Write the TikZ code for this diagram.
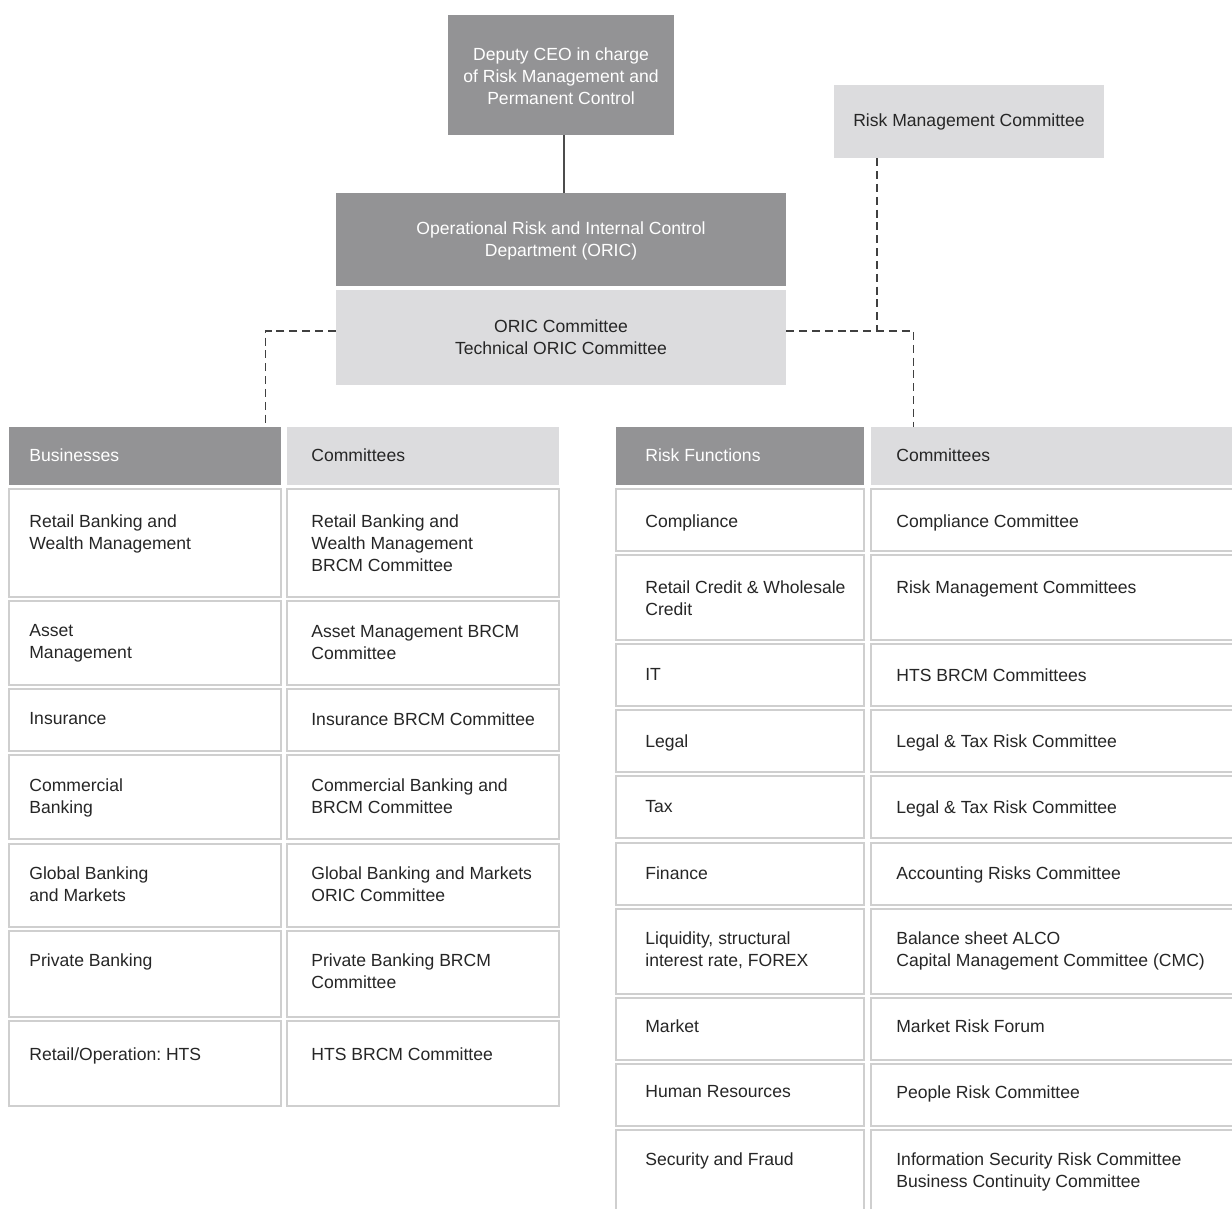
\documentclass[tikz,border=0pt]{standalone}
\usepackage{fontspec}
\setmainfont{Liberation Sans}
\usetikzlibrary{fit}
\frenchspacing

\definecolor{orgdark}{HTML}{939395}
\definecolor{orglight}{HTML}{DCDCDE}
\definecolor{cellline}{HTML}{CFCFCF}
\definecolor{orgtext}{HTML}{262626}

\tikzset{
  darkbox/.style={fill=orgdark, inner sep=0pt},
  lightbox/.style={fill=orglight, inner sep=0pt},
  boxtext/.style={inner sep=0pt, align=center},
  cellbox/.style={draw=cellline, line width=0.9pt, fill=white, inner sep=0pt},
  celltext/.style={anchor=north west, inner sep=0pt, align=left, text=orgtext},
  headtext/.style={anchor=west, inner sep=0pt},
  link/.style={draw=black!70, line width=0.8pt},
  dashlink/.style={draw=black!75, line width=0.8pt, dash pattern=on 4.5pt off 2.8pt}
}

\begin{document}
\begin{tikzpicture}[x=0.02cm, y=-0.02cm, font=\fontsize{10}{12.5}\selectfont]
\useasboundingbox (0,0) rectangle (1232,1209);

% Top of the chart
\node[darkbox, fit={(448,15)(674,135)}] (ceo) {};
\node[lightbox, fit={(834,85)(1104,158)}] (rmc) {};
\node[darkbox, fit={(336,193)(786,286)}] (oricdept) {};
\node[lightbox, fit={(336,290)(786,385)}] (oriccom) {};
\node[boxtext, text=white] (ceo-t) at ([yshift=-0.03cm]ceo.center) {Deputy CEO in charge\\of Risk Management and\\Permanent Control};
\node[boxtext, text=orgtext] (rmc-t) at (rmc.center) {Risk Management Committee};
\node[boxtext, text=white] (oricdept-t) at ([yshift=-0.03cm]oricdept.center) {Operational Risk and Internal Control\\Department (ORIC)};
\node[boxtext, text=orgtext] (oriccom-t) at (oriccom.center) {ORIC Committee\\Technical ORIC Committee};

% Headers
\node[darkbox, fit={(9,427)(281,485)}] (bizhead) {};
\node[lightbox, fit={(287,427)(559,485)}] (bizcomhead) {};
\node[darkbox, fit={(616,427)(864,485)}] (rfhead) {};
\node[lightbox, fit={(871,427)(1240,485)}] (rfcomhead) {};
\node[headtext, text=white] (bizhead-t) at (29,455) {Businesses};
\node[headtext, text=orgtext] (bizcomhead-t) at (311,455) {Committees};
\node[headtext, text=white] (rfhead-t) at (645,455) {Risk Functions};
\node[headtext, text=orgtext] (rfcomhead-t) at (896,455) {Committees};

% Businesses and their committees
\foreach \ya/\yb/\yc/\ta/\tb [count=\i] in {
  489/597/521/{Retail Banking and\\Wealth Management}/{Retail Banking and\\Wealth Management\\BRCM Committee},
  601/685/631/{Asset\\Management}/{Asset Management BRCM\\Committee},
  689/751/719/{Insurance}/{Insurance BRCM Committee},
  755/839/785/{Commercial\\Banking}/{Commercial Banking and\\BRCM Committee},
  844/927/873/{Global Banking\\and Markets}/{Global Banking and Markets\\ORIC Committee},
  931/1017/960/{Private Banking}/{Private Banking BRCM\\Committee},
  1021/1106/1054/{Retail/Operation: HTS}/{HTS BRCM Committee}}
{
  \node[cellbox, fit={(9,\ya)(281,\yb)}] (biz\i) {};
  \node[cellbox, fit={(287,\ya)(559,\yb)}] (bizcom\i) {};
  \node[celltext] (biz\i-t) at (29,\yc-6.5) {\ta};
  \node[celltext] (bizcom\i-t) at (311,\yc-6.5) {\tb};
}

% Risk functions and their committees
\foreach \ya/\yb/\yc/\ta/\tb [count=\i] in {
  489/551/521/{Compliance}/{Compliance Committee},
  555/640/587/{Retail Credit \& Wholesale\\Credit}/{Risk Management Committees},
  644/706/675/{IT}/{HTS BRCM Committees},
  710/772/741/{Legal}/{Legal \& Tax Risk Committee},
  776/838/807/{Tax}/{Legal \& Tax Risk Committee},
  843/905/873/{Finance}/{Accounting Risks Committee},
  909/994/938/{Liquidity, structural\\interest rate, FOREX}/{Balance sheet ALCO\\Capital Management Committee (CMC)},
  998/1060/1026/{Market}/{Market Risk Forum},
  1064/1126/1092/{Human Resources}/{People Risk Committee},
  1130/1220/1159/{Security and Fraud}/{Information Security Risk Committee\\Business Continuity Committee}}
{
  \node[cellbox, fit={(616,\ya)(864,\yb)}] (rf\i) {};
  \node[cellbox, fit={(871,\ya)(1240,\yb)}] (rfcom\i) {};
  \node[celltext] (rf\i-t) at (645,\yc-6.5) {\ta};
  \node[celltext] (rfcom\i-t) at (896,\yc-6.5) {\tb};
}

% Links
\coordinate (rmcjoin) at (877,331);
\draw[link] ([xshift=0.06cm]ceo.south) -- ([xshift=0.06cm]ceo.south |- oricdept.north);
\draw[dashlink] ([yshift=0.13cm]oriccom.west) -| ([xshift=-0.32cm]bizhead.north east);
\draw[dashlink] ([yshift=0.13cm]oriccom.east) -| ([xshift=0.86cm]rfcomhead.north west);
\draw[dashlink] (rmcjoin |- rmc.south) -- (rmcjoin);
\end{tikzpicture}
\end{document}
